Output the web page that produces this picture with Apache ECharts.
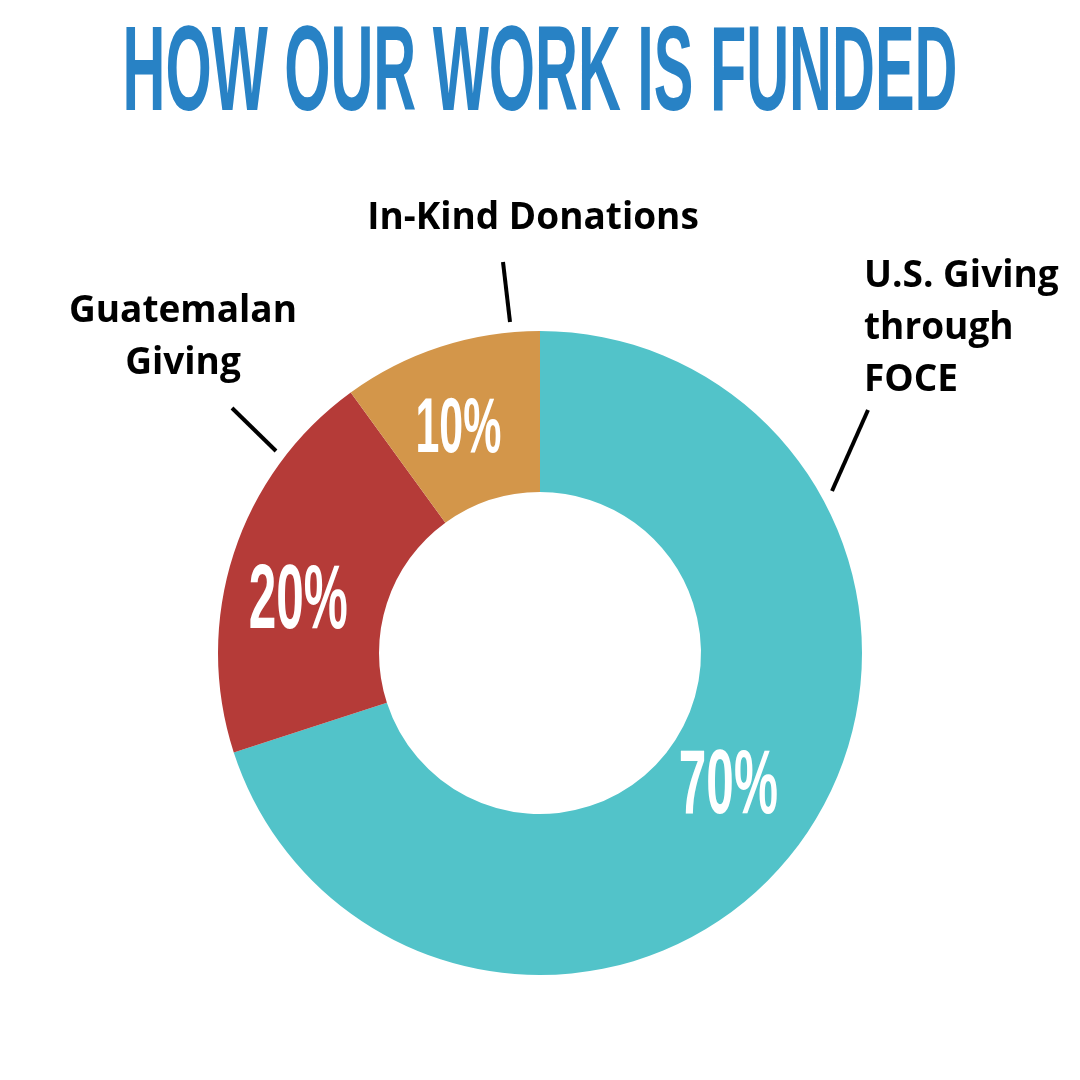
<!DOCTYPE html>
<html>
<head>
<meta charset="utf-8">
<script src="https://cdn.jsdelivr.net/npm/echarts@6/dist/echarts.min.js"></script>
<style>
  html, body { margin: 0; padding: 0; background: #fff; }
  #chart { width: 1080px; height: 1080px; }
</style>
</head>
<body>
<div id="chart"></div>
<script>
// funding sources, clockwise from 12 o'clock
const sources = ['U.S. Giving\nthrough\nFOCE', 'Guatemalan\nGiving', 'In-Kind Donations']
const shares = [70, 20, 10]
const sliceColors = ['#52C3C9', '#B53B38', '#D3964A']

// where each name label sits and where its little pointer line goes
const namePlacement = [
  { x: 864, y: 328, align: 'left', line: [[868, 410], [832, 491]] },
  { x: 183, y: 337, align: 'center', line: [[232, 408], [276, 451]] },
  { x: 533, y: 218, align: 'center', line: [[503, 262], [510, 322]] }
]
// percentage labels: size and a small nudge from the slice mid point
const pctFontSize = [90, 90, 78]
const pctNudge = [[-7, -7], [-12, 25], [-7, 7]]

const chart = echarts.init(document.getElementById('chart'))

chart.setOption({
  backgroundColor: '#ffffff',
  animation: false,
  series: [
    {
      type: 'pie',
      center: [540, 653],
      radius: [161, 322],
      startAngle: 90,
      clockwise: true,
      silent: true,
      data: sources.map((name, i) => ({
        name,
        value: shares[i],
        itemStyle: { color: sliceColors[i] }
      })),
      label: {
        show: true,
        position: 'outside',
        alignTo: 'none',
        overflow: 'none',
        formatter: '{b}',
        color: '#000',
        fontFamily: 'Open Sans',
        fontWeight: 700,
        fontSize: 37,
        lineHeight: 52
      },
      labelLine: {
        show: true,
        lineStyle: { color: '#000', width: 4 }
      },
      labelLayout: (params) => {
        const p = namePlacement[params.dataIndex]
        return {
          x: p.x,
          y: p.y,
          align: p.align,
          verticalAlign: 'middle',
          labelLinePoints: p.line
        }
      }
    }
  ]
})

// condensed look via horizontal squeeze, placed at slice mid angles
const pieData = chart.getModel().getSeriesByIndex(0).getData()
const pctTexts = shares.map((v, i) => {
  const lay = pieData.getItemLayout(i)
  const mid = (lay.startAngle + lay.endAngle) / 2
  const rm = (lay.r + lay.r0) / 2
  return {
    type: 'text',
    z: 100,
    x: lay.cx + rm * Math.cos(mid) + pctNudge[i][0],
    y: lay.cy + rm * Math.sin(mid) + pctNudge[i][1],
    scaleX: 0.55,
    silent: true,
    style: {
      text: v + '%',
      fill: '#ffffff',
      font: 'bold ' + pctFontSize[i] + 'px "Liberation Sans"',
      textAlign: 'center',
      textVerticalAlign: 'middle'
    }
  }
})

chart.setOption({
  graphic: [
    {
      type: 'text',
      z: 100,
      x: 540,
      y: 77,
      scaleX: 0.495,
      silent: true,
      style: {
        text: 'HOW OUR WORK IS FUNDED',
        fill: '#2882C5',
        font: 'bold 120px "Liberation Sans"',
        textAlign: 'center',
        textVerticalAlign: 'middle'
      }
    }
  ].concat(pctTexts)
})
</script>
</body>
</html>
